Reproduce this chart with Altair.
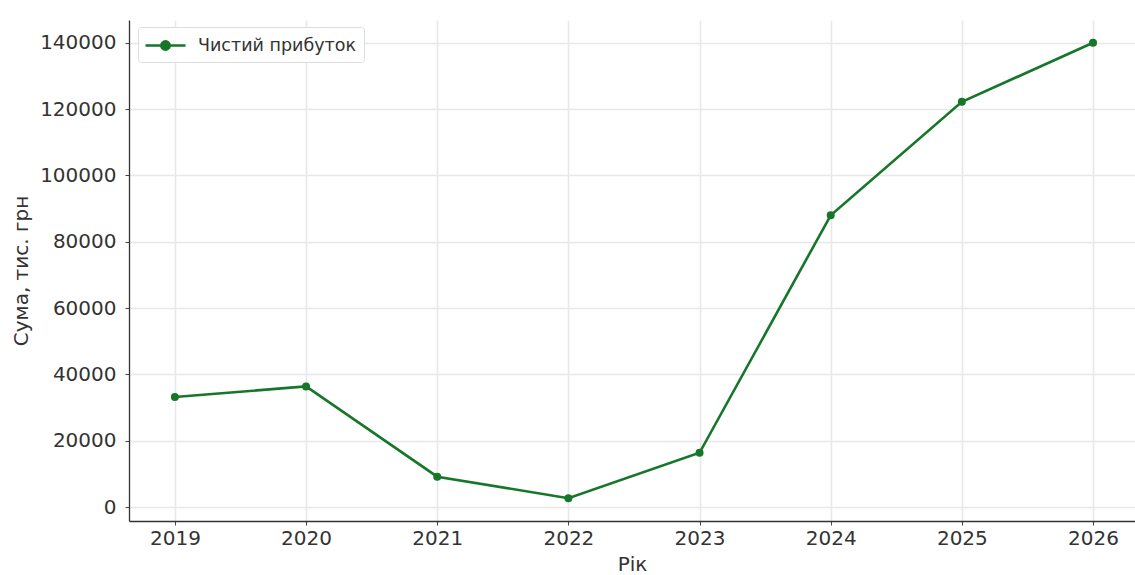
import altair as alt
import pandas as pd

# Net profit by year, thousand UAH
years = [2019, 2020, 2021, 2022, 2023, 2024, 2025, 2026]
net_profit = [33200, 36400, 9200, 2700, 16400, 88000, 122200, 140000]
series_name = "Чистий прибуток"
y_ticks = [0, 20000, 40000, 60000, 80000, 100000, 120000, 140000]

df = pd.DataFrame({"year": years, "value": net_profit, "series": series_name})

LINE_GREEN = "#16762a"
FONT = "DejaVu Sans"

# legend glyph: a short line segment with a dot in the middle
legend_glyph = (
    "M-2,0 L2,0 "
    "M-0.42,0 A0.42,0.42 0 1,1 0.42,0 A0.42,0.42 0 1,1 -0.42,0 Z"
)

x_enc = alt.X(
    "year:Q",
    title="Рік",
    scale=alt.Scale(domain=[2018.65, 2026.32], nice=False, zero=False),
    axis=alt.Axis(values=years, format="d"),
)
y_enc = alt.Y(
    "value:Q",
    title="Сума, тис. грн",
    scale=alt.Scale(domain=[-4165, 146865], nice=False, zero=False),
    axis=alt.Axis(values=y_ticks, format="d"),
)
color_scale = alt.Scale(domain=[series_name], range=[LINE_GREEN])
color_enc = alt.Color(
    "series:N",
    title=None,
    scale=color_scale,
    legend=alt.Legend(
        orient="none",
        legendX=9,
        legendY=7,
        symbolType=legend_glyph,
        symbolSize=400,
        symbolOffset=9,
        symbolStrokeWidth=2.5,
        symbolStrokeColor=LINE_GREEN,
        symbolFillColor=LINE_GREEN,
        labelOffset=21,
        labelFontSize=17.5,
        labelLimit=400,
        labelFont=FONT,
        labelColor="#333333",
        padding=7,
        fillColor="rgba(255,255,255,0.85)",
        strokeColor="#dddddd",
        cornerRadius=3,
    ),
)

line = alt.Chart(df).mark_line(strokeWidth=2.6).encode(x=x_enc, y=y_enc, color=color_enc)
points = alt.Chart(df).mark_point(filled=True, size=64, opacity=1).encode(
    x=x_enc, y=y_enc, color=alt.Color("series:N", legend=None, scale=color_scale)
)

chart = (
    alt.layer(line, points)
    .properties(
        width=1006,
        height=501,
        autosize=alt.AutoSizeParams(type="none"),
        padding={"left": 129, "top": 20, "right": 0, "bottom": 54},
        background="white",
    )
    .configure_view(stroke=None)
    .configure_axis(
        labelFont=FONT,
        titleFont=FONT,
        labelFontSize=20,
        titleFontSize=20,
        labelColor="#333333",
        titleColor="#333333",
        titleFontWeight="normal",
        domainColor="#333333",
        domainWidth=1.3,
        tickColor="#444444",
        tickSize=4,
        tickWidth=1,
        gridColor="#e8e8e8",
        gridWidth=1.6,
    )
    .configure_axisX(labelPadding=3, titlePadding=6)
    .configure_axisY(labelPadding=9, titlePadding=8)
)

chart.save("out.html", embed_options={"renderer": "svg", "actions": False})
